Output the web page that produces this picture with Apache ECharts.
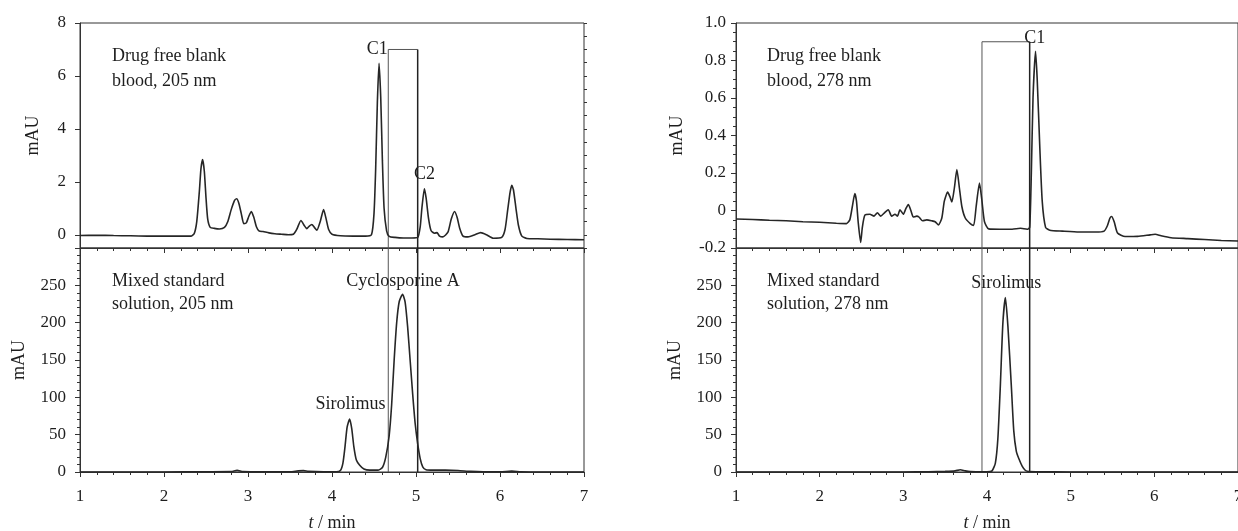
<!DOCTYPE html>
<html>
<head>
<meta charset="utf-8">
<script src="https://cdn.jsdelivr.net/npm/echarts@6/dist/echarts.min.js"></script>
<style>
html,body{margin:0;padding:0;background:#fff;}
#c{width:1238px;height:531px;}
</style>
</head>
<body>
<div id="c"></div>
<script>
// ---- data (t in min, signal in mAU) ----
const blank205 = [
 [1.00,-0.03],[1.20,-0.02],[1.40,-0.03],[1.60,-0.04],[1.80,-0.05],[2.00,-0.05],[2.20,-0.05],[2.32,-0.05],
 [2.36,0.05],[2.39,0.5],[2.42,1.6],[2.44,2.5],[2.46,2.84],[2.48,2.4],[2.50,1.4],[2.52,0.6],[2.55,0.28],[2.60,0.24],[2.66,0.22],[2.72,0.28],
 [2.76,0.5],[2.80,0.95],[2.84,1.3],[2.865,1.36],[2.89,1.2],[2.92,0.8],[2.95,0.42],[2.98,0.45],[3.01,0.7],[3.04,0.88],[3.07,0.65],[3.10,0.3],
 [3.13,0.15],[3.18,0.12],[3.25,0.07],[3.32,0.04],[3.40,0.02],[3.48,0.0],[3.54,0.02],[3.58,0.2],[3.63,0.54],[3.67,0.35],[3.70,0.23],[3.73,0.33],
 [3.76,0.39],[3.79,0.28],[3.82,0.17],[3.86,0.5],[3.90,0.95],[3.93,0.6],[3.96,0.2],[4.00,0.02],[4.10,-0.04],[4.25,-0.05],[4.40,-0.05],[4.47,0.0],
 [4.50,0.8],[4.52,2.5],[4.54,5.0],[4.56,6.48],[4.58,5.2],[4.60,2.8],[4.62,1.0],[4.65,0.15],[4.68,-0.06],[4.75,-0.1],[4.85,-0.12],[4.95,-0.12],[5.02,-0.1],
 [5.05,0.3],[5.07,1.0],[5.10,1.74],[5.12,1.4],[5.15,0.6],[5.18,0.15],[5.22,0.06],[5.25,0.08],[5.28,-0.05],[5.32,-0.08],
 [5.38,0.1],[5.42,0.6],[5.46,0.88],[5.49,0.65],[5.52,0.25],[5.56,-0.05],[5.62,-0.08],[5.70,0.0],[5.77,0.08],[5.84,0.0],[5.92,-0.13],[6.02,-0.1],
 [6.06,0.2],[6.09,0.9],[6.12,1.6],[6.14,1.87],[6.16,1.7],[6.19,1.0],[6.22,0.35],[6.26,-0.05],[6.32,-0.14],[6.45,-0.15],[6.60,-0.17],[6.80,-0.18],[7.00,-0.19]
];
const std205 = [
 [1.0,0],[1.5,0],[2.0,0],[2.5,0.3],[2.80,0.5],[2.87,2.2],[2.94,0.5],[3.2,0.2],[3.5,0.3],[3.60,1.5],[3.66,1.8],[3.72,0.8],[3.9,0.2],[4.05,0.3],
 [4.10,2],[4.13,12],[4.155,34],[4.18,60],[4.21,70.8],[4.235,58],[4.26,34],[4.29,16],[4.33,9],[4.38,4],[4.45,2.5],[4.55,2.5],
 [4.60,6],[4.64,20],[4.68,48],[4.71,90],[4.74,150],[4.77,200],[4.80,228],[4.84,238],[4.87,228],[4.90,195],[4.93,150],[4.96,105],[4.99,65],
 [5.02,38],[5.05,18],[5.08,7],[5.12,3],[5.20,2.5],[5.35,2.5],[5.50,2],[5.65,0.8],[5.8,0.3],[6.0,0.3],[6.14,1.2],[6.25,0.3],[6.5,0],[7.0,0]
];
const blank278 = [
 [1.00,-0.045],[1.20,-0.048],[1.40,-0.052],[1.60,-0.055],[1.80,-0.06],[2.00,-0.063],[2.20,-0.068],[2.32,-0.07],[2.36,-0.05],[2.39,0.02],
 [2.42,0.09],[2.44,0.05],[2.46,-0.06],[2.49,-0.17],[2.51,-0.09],[2.54,-0.025],[2.60,-0.02],[2.65,-0.03],[2.69,-0.012],[2.73,-0.03],
 [2.78,-0.01],[2.82,0.004],[2.86,-0.03],[2.90,-0.02],[2.93,-0.03],[2.96,0.004],[3.00,-0.02],[3.03,0.01],[3.06,0.032],[3.09,0.0],
 [3.12,-0.035],[3.16,-0.03],[3.19,-0.036],[3.23,-0.055],[3.28,-0.05],[3.34,-0.055],[3.38,-0.06],[3.42,-0.077],[3.46,-0.04],[3.49,0.05],
 [3.53,0.098],[3.56,0.07],[3.58,0.045],[3.61,0.12],[3.64,0.218],[3.67,0.12],[3.70,0.02],[3.74,-0.04],[3.80,-0.07],[3.84,-0.08],
 [3.87,0.02],[3.91,0.146],[3.94,0.05],[3.97,-0.06],[4.02,-0.098],[4.15,-0.1],[4.30,-0.1],[4.40,-0.095],[4.48,-0.1],[4.51,-0.09],
 [4.53,0.2],[4.55,0.6],[4.58,0.849],[4.60,0.7],[4.63,0.35],[4.66,0.05],[4.70,-0.09],[4.75,-0.105],[4.90,-0.11],[5.10,-0.115],[5.30,-0.115],
 [5.40,-0.11],[5.44,-0.08],[5.47,-0.04],[5.49,-0.032],[5.52,-0.06],[5.56,-0.12],[5.65,-0.139],[5.80,-0.138],[5.95,-0.13],[6.01,-0.127],
 [6.08,-0.135],[6.20,-0.145],[6.40,-0.15],[6.60,-0.155],[6.80,-0.16],[7.00,-0.163]
];
const std278 = [
 [1.0,0],[2.0,0],[3.0,0],[3.30,0.3],[3.50,0.8],[3.62,1.5],[3.68,3.0],[3.74,1.5],[3.80,0.5],[3.90,0.3],[4.00,0.3],
 [4.06,1.5],[4.10,12],[4.13,45],[4.16,117],[4.19,200],[4.22,233.6],[4.25,195],[4.29,117],[4.32,55],[4.35,28],[4.38,18],
 [4.42,8],[4.46,2],[4.50,0.5],[4.60,0.3],[5.0,0],[7.0,0]
];
// collection windows: [t start, t end, height in upper panel]
const box205 = [4.67, 5.02, 7.0];
const box278 = [3.94, 4.51, 0.9];
// peak annotations: [text, t, mAU]
const notes205Top = [['C1', 4.54, 7.0], ['C2', 5.10, 2.28]];
const notes205Bot = [['Sirolimus', 4.22, 90.5], ['Cyclosporine A', 4.845, 255.7]];
const notes278Top = [['C1', 4.57, 0.916]];
const notes278Bot = [['Sirolimus', 4.23, 252.7]];
// axis ranges and tick values
const xRange = [1, 7];
const yTopLeftRange = [-0.5, 8];
const yTopLeftTicks = [0, 2, 4, 6, 8];
const yTopRightRange = [-0.2, 1.0];
const yBottomRange = [0, 300];
const panelTexts = ['Drug free blank\nblood, 205 nm', 'Mixed standard\nsolution, 205 nm',
                    'Drug free blank\nblood, 278 nm', 'Mixed standard\nsolution, 278 nm'];

// ---- chart ----
const FONT = '"Liberation Serif", "Times New Roman", serif';
const INK = '#1e1e1e';
const chart = echarts.init(document.getElementById('c'), null, {renderer: 'canvas'});

const grids = [
  {left: 80, top: 23, width: 504, height: 225},
  {left: 80, top: 248, width: 504, height: 224},
  {left: 736, top: 23, width: 502, height: 225},
  {left: 736, top: 248, width: 502, height: 224}
].map(g => Object.assign(g, {show: true, borderColor: '#333', borderWidth: 1, backgroundColor: 'transparent',
                             containLabel: false, outerBoundsMode: 'none'}));

function xAx(gi, showLabels) {
  return {
    type: 'value', gridIndex: gi, min: xRange[0], max: xRange[1], interval: 1,
    axisLine: {show: true, onZero: false, lineStyle: {color: '#333', width: 1}},
    axisTick: {show: true, inside: false, length: 5, lineStyle: {color: '#333'}},
    minorTick: {show: true, splitNumber: 5, length: 3, lineStyle: {color: '#333'}},
    splitLine: {show: false}, minorSplitLine: {show: false},
    axisLabel: {show: showLabels, fontFamily: FONT, fontSize: 17, color: INK, margin: 16},
    name: showLabels ? '{i|t} / min' : '', nameLocation: 'middle', nameGap: 42,
    nameTextStyle: {fontFamily: FONT, fontSize: 18, color: INK, rich: {i: {fontFamily: FONT, fontSize: 18, fontStyle: 'italic', color: INK}}}
  };
}
function yAx(gi, range, interval, minorSplit, gap, margin, fmt) {
  const a = {
    type: 'value', gridIndex: gi, min: range[0], max: range[1],
    axisLine: {show: true, onZero: false, lineStyle: {color: '#333', width: 1}},
    axisTick: {show: true, inside: false, length: 5, lineStyle: {color: '#333'}},
    minorTick: {show: !!minorSplit, splitNumber: minorSplit || 5, length: 3, lineStyle: {color: '#333'}},
    splitLine: {show: false}, minorSplitLine: {show: false},
    axisLabel: {fontFamily: FONT, fontSize: 17, color: INK, margin: margin, formatter: fmt},
    name: 'mAU', nameLocation: 'middle', nameGap: gap,
    nameTextStyle: {fontFamily: FONT, fontSize: 18, color: INK}
  };
  if (interval) a.interval = interval;
  return a;
}

const yAxes = [
  (() => { const a = yAx(0, yTopLeftRange, null, 0, 38, 14, v => String(v));
           a.axisLabel.customValues = yTopLeftTicks; a.axisTick.customValues = yTopLeftTicks; return a; })(),
  yAx(1, yBottomRange, 50, 5, 52, 14, v => (v >= yBottomRange[1] ? '' : String(v))),
  yAx(2, yTopRightRange, 0.2, 4, 50, 10, v => (Math.abs(v) < 1e-9 ? '0' : v.toFixed(1))),
  yAx(3, yBottomRange, 50, 5, 52, 14, v => (v >= yBottomRange[1] ? '' : String(v))),
  // minor ticks for the upper-left panel
  {type: 'value', gridIndex: 0, min: yTopLeftRange[0], max: yTopLeftRange[1], interval: 0.5,
   axisLine: {show: false, onZero: false}, axisTick: {show: true, length: 3, lineStyle: {color: '#333'}},
   axisLabel: {show: false}, splitLine: {show: false}}
];

function trace(data, gi) {
  return {type: 'line', xAxisIndex: gi, yAxisIndex: gi, data: data, showSymbol: false, smooth: 0.2,
          lineStyle: {color: '#262626', width: 1.6}, z: 3, silent: true, animation: false};
}
function seg(data, gi, w, col) {
  return {type: 'line', xAxisIndex: gi, yAxisIndex: gi, data: data, showSymbol: false,
          lineStyle: {color: col, width: w}, z: 2, silent: true, animation: false};
}
function notes(list, gi) {
  return {type: 'scatter', xAxisIndex: gi, yAxisIndex: gi, symbolSize: 0, z: 5, silent: true, animation: false,
          itemStyle: {opacity: 1},
          data: list.map(n => [n[1], n[2], n[0]]),
          label: {show: true, position: 'inside', formatter: p => p.data[2], fontFamily: FONT, fontSize: 18,
                  color: INK, opacity: 1}};
}
function boxSeries(box, giTop, giBot, topMin) {
  return [
    seg([[box[0], topMin], [box[0], box[2]], [box[1], box[2]]], giTop, 1, '#555'),
    seg([[box[1], box[2]], [box[1], topMin]], giTop, 1.5, '#222'),
    seg([[box[0], yBottomRange[1]], [box[0], yBottomRange[0]]], giBot, 1, '#555'),
    seg([[box[1], yBottomRange[1]], [box[1], yBottomRange[0]]], giBot, 1.5, '#222')
  ];
}

const textPos = [[112, 44], [112, 270], [767, 44], [767, 270]];
const graphic = panelTexts.map((t, i) => ({
  type: 'text', left: textPos[i][0], top: textPos[i][1], z: 10,
  style: {text: t, font: '18px ' + FONT, fill: INK, lineHeight: i % 2 ? 23 : 25}
}));

chart.setOption({
  animation: false,
  backgroundColor: '#fff',
  grid: grids,
  xAxis: [xAx(0, false), xAx(1, true), xAx(2, false), xAx(3, true)],
  yAxis: yAxes,
  graphic: graphic,
  series: [
    trace(blank205, 0), trace(std205, 1), trace(blank278, 2), trace(std278, 3),
    ...boxSeries(box205, 0, 1, yTopLeftRange[0]),
    ...boxSeries(box278, 2, 3, yTopRightRange[0]),
    notes(notes205Top, 0), notes(notes205Bot, 1), notes(notes278Top, 2), notes(notes278Bot, 3)
  ]
});
</script>
</body>
</html>
